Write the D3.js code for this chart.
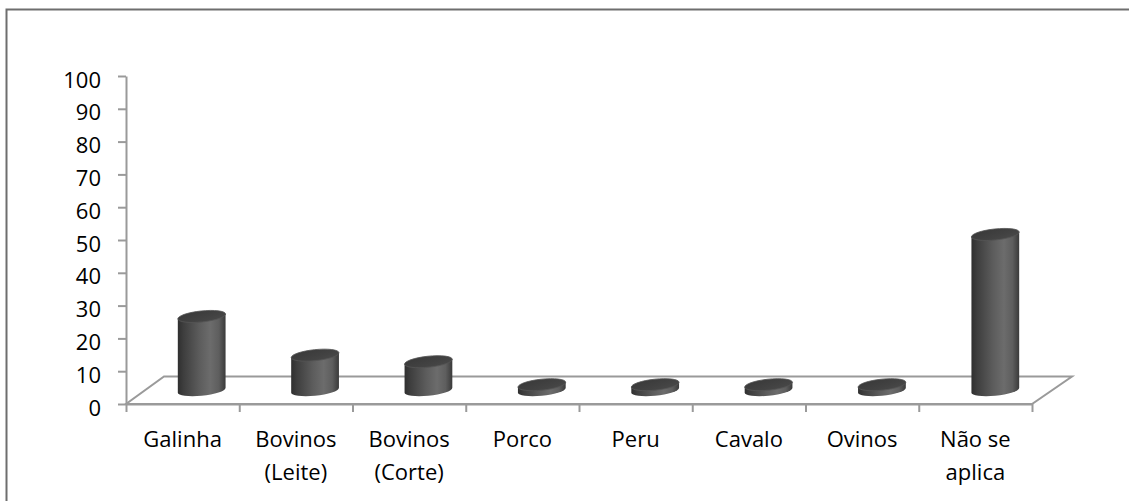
<!DOCTYPE html>
<html>
<head>
<meta charset="utf-8">
<script src="https://cdn.jsdelivr.net/npm/d3@7"></script>
<style>
  html, body { margin: 0; padding: 0; background: #ffffff; }
  svg { display: block; }
  text { font-family: "Open Sans", "Liberation Sans", sans-serif; }
</style>
</head>
<body>
<script>
// ---- data ----
const categories = ["Galinha", "Bovinos (Leite)", "Bovinos (Corte)", "Porco", "Peru", "Cavalo", "Ovinos", "Não se aplica"];
const labelLines = [["Galinha"], ["Bovinos", "(Leite)"], ["Bovinos", "(Corte)"], ["Porco"], ["Peru"], ["Cavalo"], ["Ovinos"], ["Não se", "aplica"]];
const values = [22.5, 10.7, 8.7, 1.7, 1.7, 1.7, 1.7, 47.5];
const yTicks = [0, 10, 20, 30, 40, 50, 60, 70, 80, 90, 100];

// ---- layout ----
const W = 1129, H = 501;
const svg = d3.select("body").append("svg").attr("width", W).attr("height", H);

const x = d3.scaleBand().domain(categories).range([126, 1032]).padding(0);
const y = d3.scaleLinear().domain([0, 100]).range([404, 76]);
const xIdx = d3.scaleLinear().domain([0, categories.length]).range([126, 1032]);

// depth projection (slight perspective)
const depthDx = xx => 38 + 2 * (xx - 126) / 906;
const depthDy = -27.5;

// outer frame
svg.append("rect").attr("x", 6.5).attr("y", 9.5).attr("width", 1200).attr("height", 600)
  .attr("fill", "none").attr("stroke", "#6e6e6e").attr("stroke-width", 2);

// defs
const defs = svg.append("defs");
const g1 = defs.append("linearGradient").attr("id", "cyl").attr("x1", 0).attr("x2", 1).attr("y1", 0).attr("y2", 0);
[[0, "#2f2f2f"], [0.12, "#3e3e3e"], [0.45, "#5c5c5c"], [0.68, "#6c6c6c"], [0.86, "#5e5e5e"], [1, "#3a3a3a"]]
  .forEach(([o, c]) => g1.append("stop").attr("offset", o).attr("stop-color", c));
const g2 = defs.append("linearGradient").attr("id", "cyltop").attr("x1", 0).attr("x2", 1).attr("y1", 0).attr("y2", 1);
[[0, "#383838"], [0.6, "#424242"], [1, "#4a4a4a"]]
  .forEach(([o, c]) => g2.append("stop").attr("offset", o).attr("stop-color", c));

// floor
const x0 = 126, x1 = 1032, yf = y(0);
const floorPts = [[x0, yf], [x1, yf], [x1 + depthDx(x1), yf + depthDy], [x0 + depthDx(x0), yf + depthDy]];
svg.append("path")
  .attr("d", d3.line()(floorPts) + "Z")
  .attr("fill", "#ffffff").attr("stroke", "#9a9a9a").attr("stroke-width", 2).attr("stroke-linejoin", "miter");

// x axis ticks (category boundaries)
const xAxis = svg.append("g").attr("transform", `translate(0,${yf})`)
  .call(d3.axisBottom(xIdx).tickValues(d3.range(categories.length + 1)).tickFormat("").tickSize(8).tickSizeOuter(0));
xAxis.select(".domain").attr("stroke", "#9a9a9a").attr("stroke-width", 2);
xAxis.selectAll(".tick line").attr("stroke", "#9a9a9a").attr("stroke-width", 2);

// y axis
const yAxis = svg.append("g").attr("transform", `translate(${x0},0)`)
  .call(d3.axisLeft(y).tickValues(yTicks).tickSize(8).tickSizeOuter(0).tickPadding(17));
yAxis.select(".domain").attr("stroke", "#9a9a9a").attr("stroke-width", 2);
yAxis.selectAll(".tick line").attr("stroke", "#9a9a9a").attr("stroke-width", 2);
yAxis.selectAll(".tick text").attr("font-size", 22).attr("fill", "#000").attr("dy", 11)
  .style("font-family", "'Open Sans', sans-serif");

// category labels
const labels = svg.append("g");
categories.forEach((c, i) => {
  const cx = x(c) + x.bandwidth() / 2;
  const t = labels.append("text").attr("x", cx).attr("y", 447).attr("text-anchor", "middle")
    .attr("font-size", 22).attr("fill", "#000");
  labelLines[i].forEach((ln, j) => {
    t.append("tspan").attr("x", cx).attr("y", 447 + j * 33).text(ln);
  });
});

// cylinders
const rx = 24, ry = 5.5, rot = -6 * Math.PI / 180;
function ellPt(cx, cy, t) {
  return [cx + rx * Math.cos(t) * Math.cos(rot) - ry * Math.sin(t) * Math.sin(rot),
          cy + rx * Math.cos(t) * Math.sin(rot) + ry * Math.sin(t) * Math.cos(rot)];
}
const tMax = Math.atan2(-ry * Math.sin(rot), rx * Math.cos(rot));
const rotDeg = rot * 180 / Math.PI;

const bars = svg.append("g");
categories.forEach((c, i) => {
  const fx = x(c) + x.bandwidth() / 2;
  const cx = fx + depthDx(fx) / 2;
  const baseY = y(0) + depthDy / 2;
  const topY = baseY - (y(0) - y(values[i]));
  const Rt = ellPt(cx, topY, tMax), Lt = ellPt(cx, topY, tMax + Math.PI);
  const Rb = ellPt(cx, baseY, tMax), Lb = ellPt(cx, baseY, tMax + Math.PI);
  const d = `M${Lt[0]},${Lt[1]} L${Lb[0]},${Lb[1]} A${rx},${ry} ${rotDeg} 0 0 ${Rb[0]},${Rb[1]} L${Rt[0]},${Rt[1]} Z`;
  bars.append("path").attr("d", d).attr("fill", "url(#cyl)");
  bars.append("ellipse").attr("cx", cx).attr("cy", topY).attr("rx", rx).attr("ry", ry)
    .attr("transform", `rotate(${rotDeg},${cx},${topY})`)
    .attr("fill", "url(#cyltop)").attr("stroke", "#555555").attr("stroke-width", 0.8);
});
</script>
</body>
</html>
